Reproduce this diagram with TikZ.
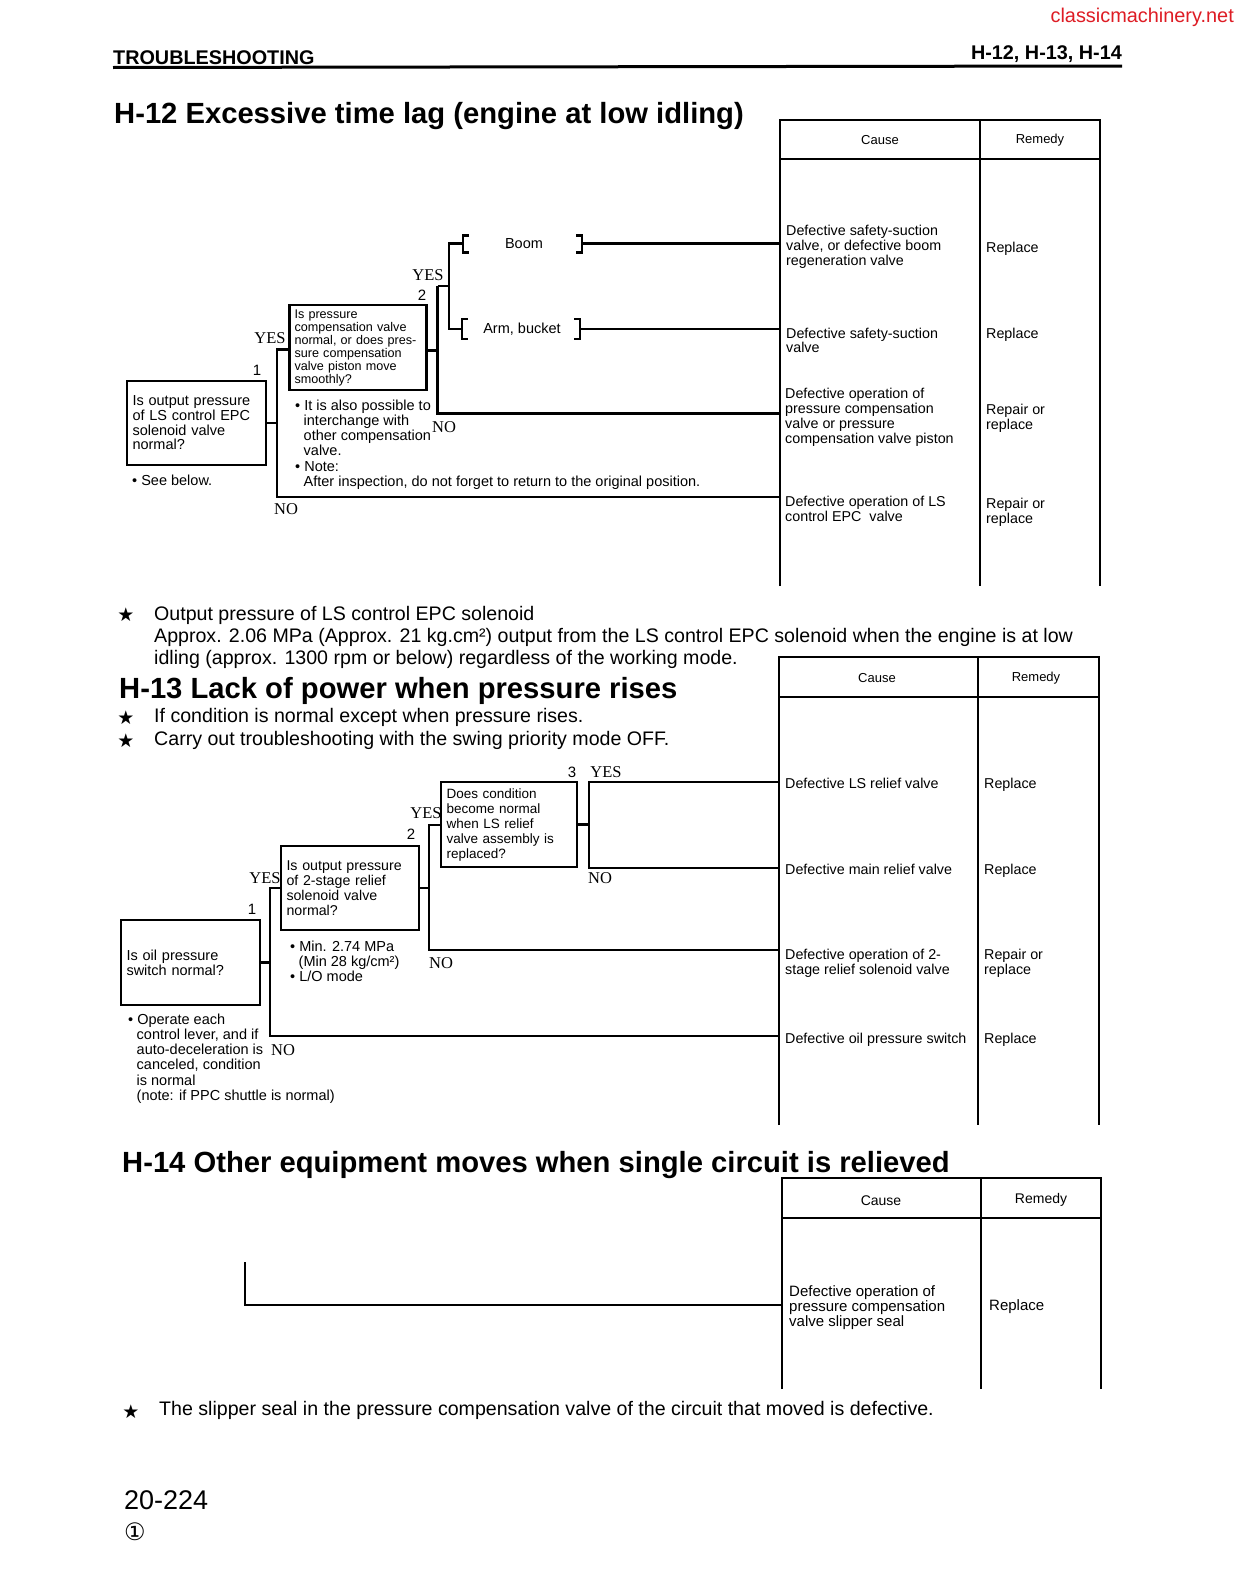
\documentclass[tikz,border=0pt]{standalone}
\usepackage{fontspec}
\setmainfont{Liberation Sans}
\newfontfamily\ynfont{Liberation Serif}
\newfontfamily\symfont{DejaVu Sans}
\definecolor{webred}{RGB}{222,28,36}
\newcommand\setfs[2]{\fontsize{#1}{#2}\selectfont}
\newcommand\myind{\hspace*{8.5pt}}
\tikzset{
  tl/.style={inner sep=0pt, anchor=north west, align=left},
  bl/.style={inner sep=0pt, anchor=base west},
  qbox/.style={draw, line width=2.1pt, inner xsep=5pt, inner ysep=0pt, align=left},
  yn/.style={inner sep=0pt, font=\ynfont\setfs{16.5}{16}},
  num/.style={inner sep=0pt, font=\setfs{15}{15}},
  wire/.style={line width=2.1pt},
  tabl/.style={line width=2.1pt},
  brk/.style={line width=2.5pt},
  hdr/.style={inner sep=0pt, font=\setfs{13}{13}},
  ttl/.style={inner sep=0pt, anchor=base west, font=\bfseries\setfs{29.2}{30}},
  starn/.style={inner sep=0pt, font=\symfont\setfs{19}{19}},
  cell/.style={tl, font=\setfs{14.3}{15}},
  fnote/.style={font=\setfs{19.6}{22}},
}
\begin{document}
\begin{tikzpicture}[x=1pt,y=-1pt]
\useasboundingbox (0,0) rectangle (1242,1590);
\fill[white] (0,0) rectangle (1242,1590);

% ---------- page header ----------
\node[inner sep=0pt, anchor=base east, text=webred, font=\setfs{19.9}{20}] (site) at (1234,23) {classicmachinery.net};
\node[bl, font=\bfseries\setfs{19.8}{20}] (sec) at (113,64) {TROUBLESHOOTING};
\node[inner sep=0pt, anchor=base east, font=\bfseries\setfs{19.8}{20}] (codes) at (1122,59) {H-12, H-13, H-14};
\draw[line width=3pt] (113,67.5) -- (1122,66);

% ================= H-12 =================
\node[ttl] (h12) at (114,123.5) {H-12 Excessive time lag (engine at low idling)};

% table 1
\draw[tabl] (780,586) -- (780,120) -- (1100,120) -- (1100,586);
\draw[tabl] (980,120) -- (980,586);
\draw[tabl] (780,159) -- (1100,159);
\node[hdr] (ca1) at (880,140) {Cause};
\node[hdr] (re1) at (1040,140) {Remedy};
\coordinate (e11) at (780,243.5);
\coordinate (e12) at (780,329);
\coordinate (e13) at (780,413.5);
\coordinate (e14) at (780,497);
\node[cell] (c11) at (786,224.5) {Defective safety-suction\\valve, or defective boom\\regeneration valve};
\node[cell] (m11) at (986,241.5) {Replace};
\node[cell, font=\setfs{14.3}{14}] (c12) at (786,327.5) {Defective safety-suction\\valve};
\node[cell] (m12) at (986,327.5) {Replace};
\node[cell] (c13) at (785,387.5) {Defective operation of\\pressure compensation\\valve or pressure\\compensation valve piston};
\node[cell] (m13) at (986,403.5) {Repair or\\replace};
\node[cell, font=\setfs{14.3}{15.5}] (c14) at (785,495.5) {Defective operation of LS\\control EPC\ \ valve};
\node[cell] (m14) at (986,497.5) {Repair or\\replace};

% question boxes
\node[qbox, minimum width=139pt, minimum height=84pt, text width=128pt, font=\setfs{14.5}{14.7}] (q1) at (196.5,423) {Is output pressure\\of LS control EPC\\solenoid valve\\normal?};
\node[qbox, minimum width=137pt, minimum height=85pt, text width=127pt, font=\setfs{12.6}{13}] (q2) at (358,347.5) {Is pressure\\compensation valve\\normal, or does pres-\\sure compensation\\valve piston move\\smoothly?};

% connectors
\coordinate (t1a) at (277,349.5);
\coordinate (t1b) at (277,497);
\draw[wire] (q1.east) -- (q1.east -| t1a);
\draw[wire] (q2.west |- t1a) -- (t1a) -- (t1b) -- (e14);
\coordinate (t2a) at (437.5,286);
\coordinate (t2m) at (437.5,350.5);
\coordinate (t2b) at (437.5,413.5);
\draw[wire] (q2.east |- t2m) -- (t2m);
\draw[wire] (t2a) -- (t2b) -- (e13);
\coordinate (t3a) at (449,243.5);
\coordinate (t3m) at (449,286);
\coordinate (t3b) at (449,329);
\draw[wire] (t2a) -- (t3m);
\coordinate (bk1) at (463,243.5);
\coordinate (bk2) at (462,329);
\draw[wire] (bk1) -- (t3a) -- (t3b) -- (bk2);
% brackets
\node[inner sep=0pt, font=\setfs{14.5}{15}] (boom) at (524,244) {Boom};
\node[inner sep=0pt, font=\setfs{14.5}{15}] (arm) at (522,329) {Arm, bucket};
\draw[brk] (469,235.5) -- (463,235.5) -- (463,252.5) -- (469,252.5);
\draw[brk] (576,235.5) -- (582,235.5) -- (582,252.5) -- (576,252.5);
\draw[brk] (468,319) -- (462,319) -- (462,339) -- (468,339);
\draw[brk] (574,319) -- (580,319) -- (580,339) -- (574,339);
\coordinate (bk3) at (582,243.5);
\coordinate (bk4) at (580,329);
\draw[wire] (bk3) -- (e11);
\draw[wire] (bk4) -- (e12);

% labels
\node[yn] (yes1) at (270,338) {YES};
\node[num] (n1) at (257,370) {1};
\node[yn] (yes2) at (428,275) {YES};
\node[num] (n2) at (422,295) {2};
\node[yn] (no2) at (444,427) {NO};
\node[yn] (no1) at (286,509) {NO};

% notes
\node[tl, font=\setfs{14.5}{15}] (seeb) at (132,474.5) {• See below.};
\node[tl, font=\setfs{14.5}{15.2}] (nq2) at (295,399.5) {• It is also possible to\\\myind interchange with\\\myind other compensation\\\myind valve.\\• Note:\\\myind After inspection, do not forget to return to the original position.};

% footnote
\node[starn] (s1) at (126,615) {★};
\node[tl, fnote] (fn1) at (154,606.5) {Output pressure of LS control EPC solenoid\\Approx. 2.06 MPa (Approx. 21 kg.cm²) output from the LS control EPC solenoid when the engine is at low\\idling (approx. 1300 rpm or below) regardless of the working mode.};

% ================= H-13 =================
\node[ttl] (h13) at (119,698.5) {H-13 Lack of power when pressure rises};
\node[starn] (s2) at (126,718) {★};
\node[bl, fnote] (st2) at (154,722.8) {If condition is normal except when pressure rises.};
\node[starn] (s3) at (126,741) {★};
\node[bl, fnote] (st3) at (154,745.8) {Carry out troubleshooting with the swing priority mode OFF.};

% table 2
\draw[tabl] (779,1125) -- (779,657) -- (1099,657) -- (1099,1125);
\draw[tabl] (978,657) -- (978,1125);
\draw[tabl] (779,697) -- (1099,697);
\node[hdr] (ca2) at (877,678) {Cause};
\node[hdr] (re2) at (1036,678) {Remedy};
\coordinate (f1) at (779,782);
\coordinate (f2) at (779,868);
\coordinate (f3) at (779,950);
\coordinate (f4) at (779,1036);
\node[cell] (c21) at (785,777.5) {Defective LS relief valve};
\node[cell] (m21) at (984,777.5) {Replace};
\node[cell] (c22) at (785,863.5) {Defective main relief valve};
\node[cell] (m22) at (984,863.5) {Replace};
\node[cell] (c23) at (785,948.5) {Defective operation of 2-\\stage relief solenoid valve};
\node[cell] (m23) at (984,948.5) {Repair or\\replace};
\node[cell] (c24) at (785,1032.5) {Defective oil pressure switch};
\node[cell] (m24) at (984,1032.5) {Replace};

% boxes
\node[qbox, minimum width=139pt, minimum height=85pt, text width=128pt, font=\setfs{14.5}{14.7}] (r1) at (190.5,962.5) {Is oil pressure\\switch normal?};
\node[qbox, minimum width=138pt, minimum height=84pt, text width=127pt, font=\setfs{14.2}{15}] (r2) at (350,888) {Is output pressure\\of 2-stage relief\\solenoid valve\\normal?};
\node[qbox, minimum width=136pt, minimum height=85pt, text width=125pt, font=\setfs{13.5}{15}] (r3) at (509,824.5) {Does condition\\become normal\\when LS relief\\valve assembly is\\replaced?};

% connectors
\coordinate (u1a) at (270,888);
\coordinate (u1b) at (270,1036);
\draw[wire] (r1.east) -- (r1.east -| u1a);
\draw[wire] (r2.west) -- (u1a) -- (u1b) -- (f4);
\coordinate (u2a) at (429,825);
\coordinate (u2b) at (429,950);
\draw[wire] (r2.east) -- (r2.east -| u2a);
\draw[wire] (r3.west |- u2a) -- (u2a) -- (u2b) -- (f3);
\coordinate (u3a) at (589,782);
\coordinate (u3b) at (589,868);
\draw[wire] (r3.east) -- (r3.east -| u3a);
\draw[wire] (f1) -- (u3a) -- (u3b) -- (f2);

% labels
\node[yn] (yes21) at (265,878) {YES};
\node[num] (n21) at (252,909) {1};
\node[yn] (yes22) at (426,813) {YES};
\node[num] (n22) at (411,834) {2};
\node[num] (n23) at (572,772) {3};
\node[yn] (yes23) at (606,772) {YES};
\node[yn] (no23) at (600,878) {NO};
\node[yn] (no22) at (441,963) {NO};
\node[yn] (no21) at (283,1050) {NO};

% notes
\node[tl, font=\setfs{14.5}{15}] (nr2) at (290,940.5) {• Min. 2.74 MPa\\\myind(Min 28 kg/cm²)\\• L/O mode};
\node[tl, font=\setfs{14.5}{15.2}] (nr1) at (128,1013.5) {• Operate each\\\myind control lever, and if\\\myind auto-deceleration is\\\myind canceled, condition\\\myind is normal\\\myind (note: if PPC shuttle is normal)};

% ================= H-14 =================
\node[ttl] (h14) at (122,1172.5) {H-14 Other equipment moves when single circuit is relieved};
\draw[tabl] (782,1389) -- (782,1178) -- (1101,1178) -- (1101,1389);
\draw[tabl] (981,1178) -- (981,1389);
\draw[tabl] (782,1218) -- (1101,1218);
\node[hdr, font=\setfs{14}{14}] (ca3) at (881,1201) {Cause};
\node[hdr, font=\setfs{14}{14}] (re3) at (1041,1200) {Remedy};
\coordinate (g0) at (245,1262);
\coordinate (g1) at (245,1305);
\coordinate (g2) at (782,1305);
\draw[wire] (g0) -- (g1) -- (g2);
\node[cell, font=\setfs{15}{15}] (c31) at (789,1285.5) {Defective operation of\\pressure compensation\\valve slipper seal};
\node[cell, font=\setfs{15}{15}] (m31) at (989,1299.5) {Replace};

\node[starn] (s4) at (131,1412) {★};
\node[bl, fnote] (st4) at (159,1415.8) {The slipper seal in the pressure compensation valve of the circuit that moved is defective.};

% page number
\node[bl, font=\setfs{27}{28}] (pg) at (124,1509) {20-224};
\node[inner sep=0pt, font=\symfont\setfs{24}{24}] (rev) at (135,1532) {①};
\end{tikzpicture}
\end{document}
